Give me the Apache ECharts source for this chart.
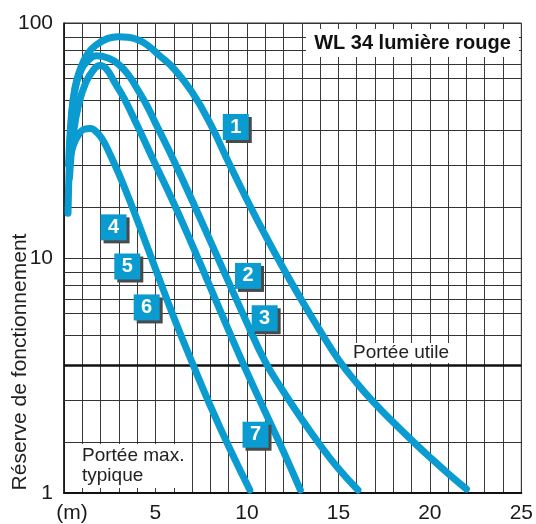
<!DOCTYPE html>
<html>
<head>
<meta charset="utf-8">
<script src="https://cdn.jsdelivr.net/npm/echarts@6/dist/echarts.min.js"></script>
<style>
  html, body { margin: 0; padding: 0; background: #fff; }
  #chart { width: 536px; height: 524px; }
</style>
</head>
<body>
<div id="chart"></div>
<script>
// Operating reserve curves vs. distance (m), log scale
const curve1 = [[0.22,15.5],[0.3,26],[0.42,40],[0.6,53],[0.87,63],[1.3,74],[1.8,81],[2.4,86],[2.95,87.5],[3.5,87],[4.1,84.4],[4.6,80],[5.2,72.9],[6,64],[7,50.8],[8,37.2],[9,25.5],[10,17.7],[11,12.5],[12,9.0],[13,6.6],[14,4.9],[15,3.7],[16,2.94],[17,2.4],[18,2.0],[19,1.68],[20,1.42],[21,1.21],[22,1.04]];
const curve2 = [[0.25,25],[0.4,40],[0.6,52],[0.9,62],[1.3,69],[1.8,72.5],[2.5,70.5],[3.0,66.5],[3.5,60.5],[4.0,52.5],[4.5,45],[5.0,37.5],[5.5,31.3],[6,26],[7,17.6],[8,11.8],[9,7.9],[10,5.3],[11,3.62],[12,2.7],[13,2.06],[14,1.6],[15,1.27],[16.07,1.03]];
const curve3 = [[0.3,22],[0.5,33],[0.8,45],[1.2,56],[1.6,63],[1.95,66],[2.3,64],[2.76,56],[3.3,47.5],[4,36.7],[5,25],[6,17.1],[7,11.4],[8,7.5],[9,4.92],[10,3.27],[11,2.21],[12,1.5],[12.92,1.03]];
const curve4 = [[0.25,25],[0.5,30],[0.8,33.5],[1.1,35.3],[1.44,35.6],[1.8,34.2],[2.13,31.7],[2.49,27.9],[3.0,22.8],[3.5,18.3],[4.11,13.8],[5,9.0],[6,5.6],[7,3.6],[8,2.35],[9,1.58],[10.16,1.03]];

// Numbered curve tags: name, x (m), y (reserve)
const tagNames = ['1','2','3','4','5','6','7'];
const tagX = [9.39, 10.06, 10.97, 2.71, 3.46, 4.52, 10.47];
const tagY = [36.1, 8.39, 5.54, 13.5, 9.2, 6.16, 1.77];

// Horizontal rulings between decades, and the usable-range threshold
const rulingValues = [1.64, 2.48, 4.69, 5.81, 6.70, 7.69, 8.73, 16.4, 24.8, 34.8, 46.9, 58.1, 67.0, 76.9, 87.3];
const usableRange = 3.48;

const xTickLabels = { 0: '{m|(m)}', 5: '5', 10: '10', 15: '15', 20: '20', 25: '25' };

const BLUE = '#0a9bd0';
const FONT = '"Liberation Sans", Arial, sans-serif';

const chart = echarts.init(document.getElementById('chart'), null, { renderer: 'canvas' });

const curveSeries = [curve1, curve2, curve3, curve4].map((pts, i) => ({
  name: 'c' + (i + 1),
  type: 'line',
  data: pts,
  smooth: 0.5,
  showSymbol: false,
  symbol: 'none',
  z: 5,
  lineStyle: { color: BLUE, width: 7, cap: 'round', join: 'round' },
  silent: true
}));

const tags = tagNames.map((n, i) => [tagX[i], tagY[i], n]);

chart.setOption({
  animation: false,
  backgroundColor: '#fff',
  textStyle: { fontFamily: FONT },
  grid: { left: 64, right: 10, top: 23, bottom: 31, show: true, borderColor: '#333', borderWidth: 1 },
  xAxis: {
    type: 'value', min: 0, max: 25, interval: 1,
    axisLine: { show: true, lineStyle: { color: '#111', width: 2 } },
    axisTick: { show: false },
    splitLine: { show: true, lineStyle: { color: '#3a3a3a', width: 1 } },
    axisLabel: {
      fontSize: 21, color: '#1a1a1a', margin: 10, fontFamily: FONT,
      showMaxLabel: true, showMinLabel: true,
      formatter: v => xTickLabels[v] || '',
      rich: { m: { fontSize: 21, color: '#1a1a1a', fontFamily: FONT, padding: [0, 0, 0, 16] } }
    }
  },
  yAxis: {
    type: 'log', logBase: 10, min: 1, max: 100,
    axisLine: { show: true, lineStyle: { color: '#111', width: 1.5 } },
    axisTick: { show: false },
    splitLine: { show: true, lineStyle: { color: '#333', width: 1 } },
    axisLabel: { fontSize: 21, color: '#1a1a1a', margin: 11, fontFamily: FONT }
  },
  series: [
    {
      name: 'rulings', type: 'line', data: [], z: 1, silent: true,
      markLine: {
        silent: true, symbol: ['none', 'none'], animation: false,
        label: { show: false },
        lineStyle: { color: '#333', width: 1, type: 'solid' },
        data: rulingValues.map(v => ({ yAxis: v }))
          .concat([{ yAxis: usableRange, lineStyle: { color: '#111', width: 2.5, type: 'solid' } }])
      }
    },
    ...curveSeries,
    {
      name: 'tags', type: 'scatter', data: tags, z: 6, silent: true,
      symbol: 'rect', symbolSize: 26,
      itemStyle: { color: BLUE, opacity: 1, shadowColor: '#4a4a4a', shadowOffsetX: 3, shadowOffsetY: 3, shadowBlur: 0 },
      label: {
        show: true, position: 'inside', formatter: p => p.data[2],
        color: '#fff', fontSize: 20, fontWeight: 'bold', fontFamily: FONT
      }
    }
  ],
  graphic: [
    { type: 'rect', z: 10, shape: { x: 306, y: 29, width: 213, height: 28 }, style: { fill: '#fff' } },
    { type: 'text', z: 11, x: 412.5, y: 43,
      style: { text: 'WL 34 lumière rouge', font: 'bold 20px ' + FONT, fill: '#111',
               textAlign: 'center', textVerticalAlign: 'middle', align: 'center', verticalAlign: 'middle' } },
    { type: 'rect', z: 3, shape: { x: 349, y: 343, width: 106, height: 20 }, style: { fill: '#fff' } },
    { type: 'text', z: 4, x: 353, y: 353,
      style: { text: 'Portée utile', font: '19px ' + FONT, fill: '#222',
               textAlign: 'left', textVerticalAlign: 'middle', align: 'left', verticalAlign: 'middle' } },
    { type: 'rect', z: 3, shape: { x: 65, y: 444, width: 125, height: 44 }, style: { fill: '#fff' } },
    { type: 'text', z: 4, x: 82, y: 456,
      style: { text: 'Portée max.', font: '19px ' + FONT, fill: '#222',
               textAlign: 'left', textVerticalAlign: 'middle', align: 'left', verticalAlign: 'middle' } },
    { type: 'text', z: 4, x: 82, y: 476,
      style: { text: 'typique', font: '19px ' + FONT, fill: '#222',
               textAlign: 'left', textVerticalAlign: 'middle', align: 'left', verticalAlign: 'middle' } },
    { type: 'text', z: 4, x: 20, y: 362, rotation: Math.PI / 2,
      style: { text: 'Réserve de fonctionnement', font: '21px ' + FONT, fill: '#222',
               textAlign: 'center', textVerticalAlign: 'middle', align: 'center', verticalAlign: 'middle' } }
  ]
});
</script>
</body>
</html>
